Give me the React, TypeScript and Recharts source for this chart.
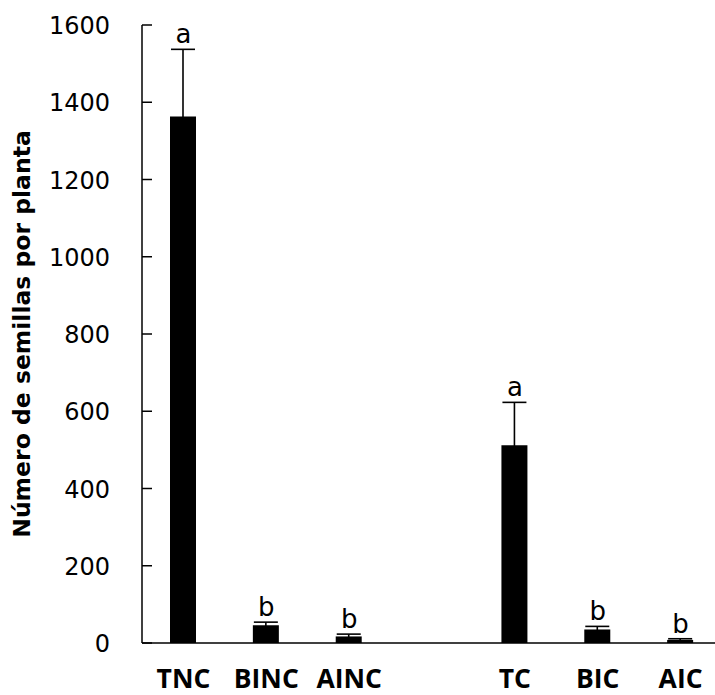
import { Bar, ComposedChart, ErrorBar, LabelList, Line, XAxis, YAxis, Label } from 'recharts';

const categories = ['TNC', 'BINC', 'AINC', ' ', 'TC', 'BIC', 'AIC'];
const means = [1363, 46, 17, null, 512, 35, 8];
const errors = [174, 8, 6, null, 111, 8, 3];
const letters = ['a', 'b', 'b', '', 'a', 'b', 'b'];
const yTicks = [0, 200, 400, 600, 800, 1000, 1200, 1400, 1600];

const data = categories.map((name, i) => ({
  name,
  mean: means[i],
  err: errors[i],
  top: means[i] == null ? null : (means[i] as number) + (errors[i] as number),
  letter: letters[i],
}));

const YTick = (props: any) => {
  const { x, y, payload } = props;
  return (
    <g>
      <line x1={x} x2={x + 10} y1={y} y2={y} stroke="#000" strokeWidth={1.5} />
      <text
        x={x - 32}
        y={y + 9}
        textAnchor="end"
        fontFamily="DejaVu Sans"
        fontSize={24}
        fill="#000"
      >
        {payload.value}
      </text>
    </g>
  );
};

const XTick = (props: any) => {
  const { x, y, payload } = props;
  return (
    <text
      x={x}
      y={y + 45}
      textAnchor="middle"
      fontFamily="Open Sans"
      fontWeight={700}
      fontSize={26.5}
      fill="#000"
    >
      {payload.value}
    </text>
  );
};

const YTitle = (props: any) => {
  const vb = props.viewBox || { y: 25, height: 618 };
  const cx = 29.5;
  const cy = vb.y + vb.height / 2;
  return (
    <text
      x={cx}
      y={cy}
      transform={`rotate(-90, ${cx}, ${cy})`}
      textAnchor="middle"
      fontFamily="DejaVu Sans"
      fontWeight={700}
      fontSize={23.5}
      fill="#000"
    >
      Número de semillas por planta
    </text>
  );
};

const App = () => {
  return (
    <div
      style={{
        position: 'absolute',
        left: 0,
        top: 0,
        width: 715,
        height: 695,
        overflow: 'hidden',
        background: '#fff',
      }}
    >
      <ComposedChart
        width={722}
        height={695}
        data={data}
        margin={{ top: 25, right: 0, left: 0, bottom: 0 }}
      >
        <XAxis
          dataKey="name"
          interval={0}
          height={52}
          tickSize={0}
          tickMargin={0}
          tickLine={false}
          axisLine={{ stroke: '#000', strokeWidth: 1.5 }}
          tick={<XTick />}
        />
        <YAxis
          width={142}
          domain={[0, 1600]}
          ticks={yTicks}
          interval={0}
          tickSize={0}
          tickMargin={0}
          tickLine={false}
          axisLine={{ stroke: '#000', strokeWidth: 1.5 }}
          tick={<YTick />}
        >
          <Label content={<YTitle />} />
        </YAxis>
        <Bar dataKey="mean" fill="#000" barSize={26} isAnimationActive={false}>
          <ErrorBar dataKey="err" direction="y" width={12} stroke="#000" strokeWidth={1.6} />
        </Bar>
        <Line
          dataKey="top"
          stroke="none"
          dot={false}
          activeDot={false}
          legendType="none"
          isAnimationActive={false}
        >
          <LabelList
            dataKey="letter"
            position="top"
            offset={6}
            fontFamily="DejaVu Sans"
            fontSize={26}
            fill="#000"
          />
        </Line>
      </ComposedChart>
    </div>
  );
};

export default App;
